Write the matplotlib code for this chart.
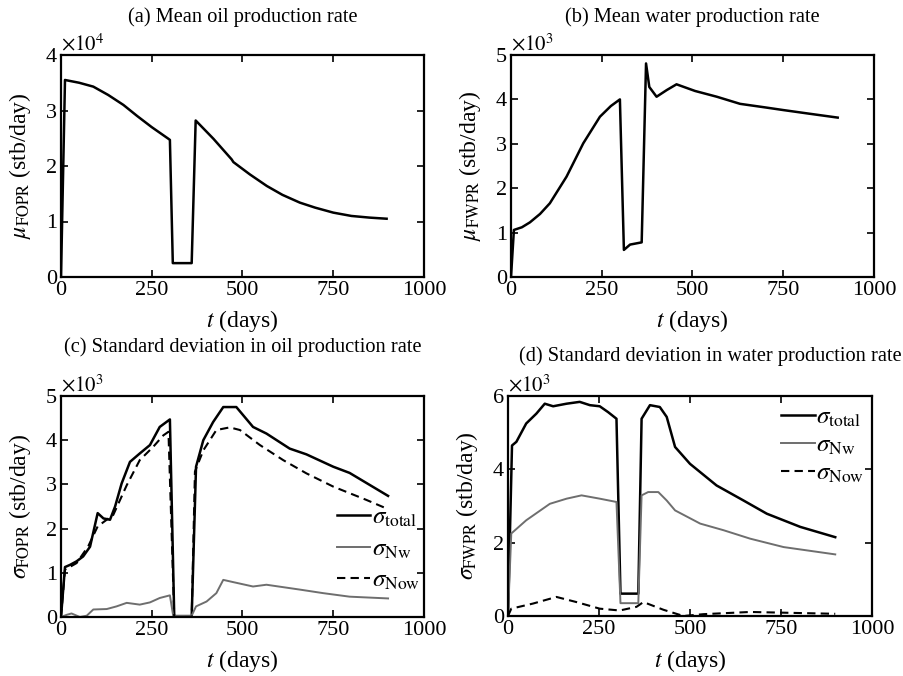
import numpy as np
import matplotlib
matplotlib.use('Agg')
import matplotlib.pyplot as plt

plt.rcParams['font.family'] = ['Liberation Serif', 'DejaVu Serif']
plt.rcParams['mathtext.fontset'] = 'stix'
plt.rcParams['font.size'] = 16

# (a) mean oil production rate, x1e4 stb/day
t_fopr = [0, 11, 50, 89, 130, 172, 210, 250, 296, 300, 308, 360, 371, 420, 470, 475, 520, 567, 610, 658, 700, 750, 800, 850, 897]
mu_fopr = [0, 3.55, 3.50, 3.43, 3.28, 3.10, 2.90, 2.70, 2.49, 2.47, 0.25, 0.25, 2.82, 2.49, 2.12, 2.07, 1.85, 1.64, 1.48, 1.34, 1.25, 1.16, 1.10, 1.07, 1.05]

# (b) mean water production rate, x1e3 stb/day
t_fwpr = [0, 8, 30, 52, 80, 107, 153, 199, 245, 275, 300, 311, 328, 360, 372, 381, 401, 429, 456, 507, 567, 631, 700, 750, 820, 900]
mu_fwpr = [0, 1.06, 1.12, 1.23, 1.42, 1.66, 2.26, 3.01, 3.61, 3.85, 4.00, 0.61, 0.73, 0.78, 4.81, 4.28, 4.06, 4.21, 4.34, 4.19, 4.06, 3.90, 3.82, 3.76, 3.68, 3.59]

# (c) std in oil production rate, x1e3 stb/day
tc_total = [0, 11, 25, 43, 61, 80, 101, 117, 135, 149, 167, 190, 217, 245, 272, 300, 312, 360, 372, 392, 419, 447, 483, 529, 566, 630, 676, 750, 795, 901]
sc_total = [0, 1.13, 1.18, 1.26, 1.37, 1.59, 2.35, 2.23, 2.20, 2.50, 3.02, 3.51, 3.70, 3.89, 4.30, 4.47, 0, 0, 3.40, 4.0, 4.41, 4.75, 4.75, 4.30, 4.15, 3.81, 3.68, 3.40, 3.26, 2.74]
tc_nw = [0, 16, 29, 52, 71, 89, 126, 153, 181, 217, 245, 272, 300, 309, 360, 372, 401, 428, 447, 474, 529, 566, 658, 722, 795, 901]
sc_nw = [0, 0.05, 0.08, 0.0, 0.03, 0.17, 0.18, 0.24, 0.32, 0.28, 0.33, 0.43, 0.49, 0.03, 0.03, 0.24, 0.35, 0.54, 0.84, 0.79, 0.69, 0.73, 0.62, 0.54, 0.46, 0.42]
tc_now = [0, 11, 43, 75, 101, 144, 181, 217, 254, 282, 296, 312, 360, 369, 392, 428, 465, 493, 548, 612, 676, 750, 841, 901]
sc_now = [0, 1.07, 1.22, 1.6, 2.05, 2.31, 2.98, 3.55, 3.85, 4.11, 4.19, 0, 0, 3.29, 3.77, 4.23, 4.29, 4.23, 3.89, 3.55, 3.25, 2.95, 2.65, 2.44]

# (d) std in water production rate, x1e3 stb/day
td_total = [0, 11, 23, 50, 78, 101, 124, 161, 197, 225, 252, 275, 298, 309, 358, 367, 390, 417, 436, 459, 500, 573, 647, 711, 803, 899]
sd_total = [0, 4.65, 4.75, 5.25, 5.52, 5.79, 5.72, 5.79, 5.84, 5.75, 5.72, 5.56, 5.38, 0.61, 0.61, 5.38, 5.75, 5.70, 5.43, 4.61, 4.15, 3.56, 3.15, 2.79, 2.43, 2.15]
td_nw = [0, 9, 50, 115, 161, 202, 252, 298, 309, 358, 367, 385, 413, 436, 459, 528, 592, 665, 757, 899]
sd_nw = [0, 2.25, 2.61, 3.06, 3.2, 3.29, 3.2, 3.11, 0.35, 0.35, 3.29, 3.38, 3.38, 3.15, 2.88, 2.52, 2.34, 2.11, 1.88, 1.68]
td_now = [0, 9, 69, 133, 188, 252, 307, 353, 372, 427, 482, 537, 665, 899]
sd_now = [0, 0.2, 0.34, 0.52, 0.38, 0.2, 0.15, 0.25, 0.38, 0.17, 0.0, 0.05, 0.11, 0.06]

gray = '#6e6e6e'

fig = plt.figure(figsize=(9.04, 6.76), dpi=100)
W, H = 904, 676

def make_ax(l, r, top, bot):
    return fig.add_axes([l / W, (H - bot) / H, (r - l) / W, (bot - top) / H])

ax_a = make_ax(61, 424, 55, 277)
ax_b = make_ax(511, 874, 55, 277)
ax_c = make_ax(61, 424, 396, 617)
ax_d = make_ax(508, 872, 396, 616)

def style(ax, ymax, yticks, exp, ylabel, title, tx=0.5, tpad=25):
    ax.set_xlim(0, 1000)
    ax.set_ylim(0, ymax)
    ax.set_xticks([0, 250, 500, 750, 1000])
    ax.set_yticks(yticks)
    ax.tick_params(direction='in', top=True, right=True, length=5, width=1.2, pad=3)
    for s in ax.spines.values():
        s.set_linewidth(1.6)
    ax.set_xlabel(r'$t$ (days)', labelpad=6, fontsize=17)
    ax.set_ylabel(ylabel, labelpad=9, fontsize=17)
    ax.text(0.0, 1.0, r'$\times10^{%d}$' % exp, transform=ax.transAxes,
            ha='left', va='bottom', fontsize=15)
    ax.set_title(title, pad=tpad, fontsize=14.7, x=tx)

ax_a.plot(t_fopr, mu_fopr, color='k', lw=1.8)
style(ax_a, 4, [0, 1, 2, 3, 4], 4, r'$\mu_{\mathrm{FOPR}}$ (stb/day)', '(a) Mean oil production rate', tpad=24)

ax_b.plot(t_fwpr, mu_fwpr, color='k', lw=1.8)
style(ax_b, 5, [0, 1, 2, 3, 4, 5], 3, r'$\mu_{\mathrm{FWPR}}$ (stb/day)', '(b) Mean water production rate', tpad=24)

ax_c.plot(tc_total, sc_total, color='k', lw=1.8, label=r'$\sigma_{\mathrm{total}}$')
ax_c.plot(tc_nw, sc_nw, color=gray, lw=1.4, label=r'$\sigma_{\mathrm{Nw}}$')
ax_c.plot(tc_now, sc_now, color='k', lw=1.5, ls=(0, (4, 2.5)), label=r'$\sigma_{\mathrm{Now}}$')
style(ax_c, 5, [0, 1, 2, 3, 4, 5], 3, r'$\sigma_{\mathrm{FOPR}}$ (stb/day)', '(c) Standard deviation in oil production rate', tpad=32)
ax_c.legend(loc='lower right', bbox_to_anchor=(1.05, 0.01), frameon=False, handlelength=1.35,
            handletextpad=0.05, labelspacing=0.35, fontsize=18)

ax_d.plot(td_total, sd_total, color='k', lw=1.8, label=r'$\sigma_{\mathrm{total}}$')
ax_d.plot(td_nw, sd_nw, color=gray, lw=1.4, label=r'$\sigma_{\mathrm{Nw}}$')
ax_d.plot(td_now, sd_now, color='k', lw=1.5, ls=(0, (4, 2.5)), label=r'$\sigma_{\mathrm{Now}}$')
style(ax_d, 6, [0, 2, 4, 6], 3, r'$\sigma_{\mathrm{FWPR}}$ (stb/day)', '(d) Standard deviation in water production rate', tx=0.555, tpad=25)
ax_d.legend(loc='upper right', bbox_to_anchor=(1.04, 1.055), frameon=False, handlelength=1.35,
            handletextpad=0.05, labelspacing=0.2, fontsize=18)

fig.savefig('out.png', dpi=100)
